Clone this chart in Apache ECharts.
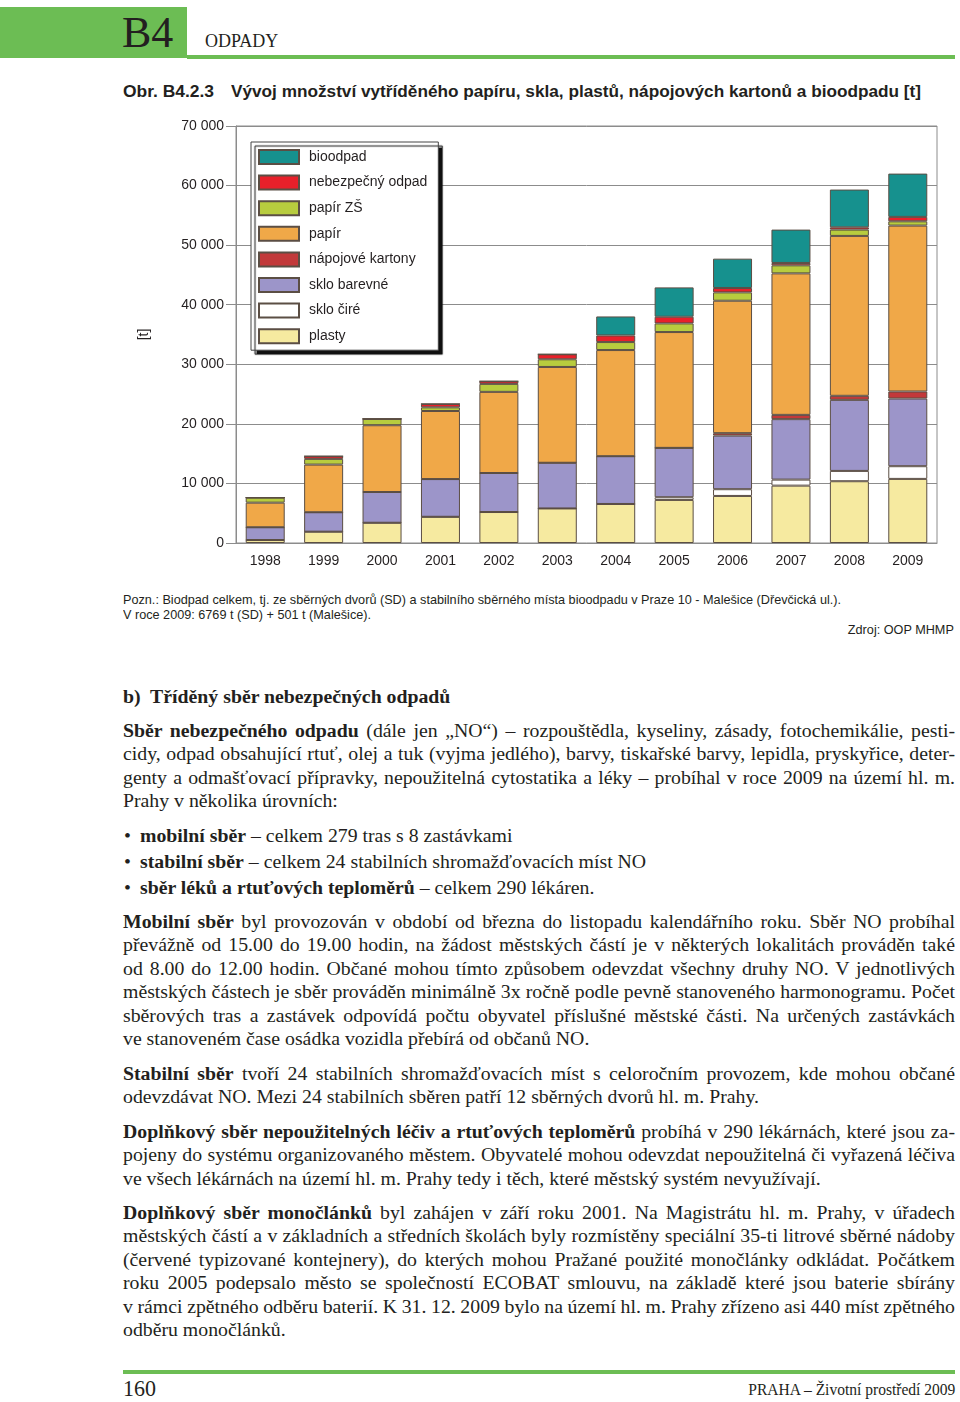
<!DOCTYPE html>
<html lang="cs">
<head>
<meta charset="utf-8">
<script src="https://cdn.jsdelivr.net/npm/echarts@6/dist/echarts.min.js"></script>
<style>
  html, body { margin: 0; padding: 0; background: #fff; }
  body { width: 960px; height: 1402px; position: relative; overflow: hidden; color: #231f20; }
  .abs { position: absolute; white-space: nowrap; }
  .serif { font-family: "Liberation Serif", "Times New Roman", serif; }
  .sans { font-family: "Liberation Sans", Arial, sans-serif; }
  .fit { display: inline-block; transform-origin: 0 50%; }
  .txt { position: absolute; left: 123px; font-family: "Liberation Serif", "Times New Roman", serif; font-size: 19.8px; line-height: 23.4px; }
  .txt div { white-space: nowrap; }
  .txt span[data-j] { display: inline-block; }
  .bul { line-height: 26px; }
  .bul div { padding-left: 17px; position: relative; }
  .bul div::before { content: "•"; position: absolute; left: 1px; }
  #chart { position: absolute; left: 0; top: 60px; width: 960px; height: 530px; }
</style>
</head>
<body>

<!-- hlavicka -->
<div class="abs" style="left:0;top:7px;width:187px;height:51px;background:#6cbd54;"></div>
<div class="abs" style="left:187px;top:55px;width:768px;height:4px;background:#6cbd54;"></div>
<div class="abs serif" style="left:122px;top:11px;font-size:44px;line-height:44px;">B4</div>
<div class="abs serif" style="left:205px;top:32px;font-size:18px;line-height:18px;">ODPADY</div>

<!-- popisek grafu -->
<div class="abs sans" style="left:123px;top:83px;font-size:16px;line-height:18px;font-weight:bold;">
  <span class="fit" data-w="91">Obr. B4.2.3</span>
</div>
<div class="abs sans" style="left:231px;top:83px;font-size:16px;line-height:18px;font-weight:bold;">
  <span class="fit" data-w="690">Vývoj množství vytříděného papíru, skla, plastů, nápojových kartonů a bioodpadu [t]</span>
</div>

<div id="chart"></div>

<!-- poznamky -->
<div class="abs sans" style="left:123px;top:592px;font-size:13px;line-height:15px;">
  <span class="fit" data-w="718">Pozn.: Biodpad celkem, tj. ze sběrných dvorů (SD) a stabilního sběrného místa bioodpadu v Praze 10 - Malešice (Dřevčická ul.).</span>
</div>
<div class="abs sans" style="left:123px;top:607px;font-size:13px;line-height:15px;">
  <span class="fit" data-w="248">V roce 2009: 6769 t (SD) + 501 t (Malešice).</span>
</div>
<div class="abs sans" style="right:6px;top:622px;font-size:13px;line-height:15px;text-align:right;">
  <span class="fit" data-w="106" style="transform-origin:100% 50%;">Zdroj: OOP MHMP</span>
</div>

<!-- text -->
<div class="txt" style="top:684px;line-height:24px;font-weight:bold;">
  <div>b)&nbsp; Tříděný sběr nebezpečných odpadů</div>
</div>

<div class="txt" style="top:719px;">
  <div><span data-j="832"><b>Sběr nebezpečného odpadu</b> (dále jen „NO“) – rozpouštědla, kyseliny, zásady, fotochemikálie, pesti-</span></div>
  <div><span data-j="832">cidy, odpad obsahující rtuť, olej a tuk (vyjma jedlého), barvy, tiskařské barvy, lepidla, pryskyřice, deter-</span></div>
  <div><span data-j="832">genty a odmašťovací přípravky, nepoužitelná cytostatika a léky – probíhal v roce 2009 na území hl. m.</span></div>
  <div>Prahy v několika úrovních:</div>
</div>

<div class="txt bul" style="top:822px;">
  <div><b>mobilní sběr</b> – celkem 279 tras s 8 zastávkami</div>
  <div><b>stabilní sběr</b> – celkem 24 stabilních shromažďovacích míst NO</div>
  <div><b>sběr léků a rtuťových teploměrů</b> – celkem 290 lékáren.</div>
</div>

<div class="txt" style="top:910px;">
  <div><span data-j="832"><b>Mobilní sběr</b> byl provozován v období od března do listopadu kalendářního roku. Sběr NO probíhal</span></div>
  <div><span data-j="832">převážně od 15.00 do 19.00 hodin, na žádost městských částí je v některých lokalitách prováděn také</span></div>
  <div><span data-j="832">od 8.00 do 12.00 hodin. Občané mohou tímto způsobem odevzdat všechny druhy NO. V jednotlivých</span></div>
  <div><span data-j="832">městských částech je sběr prováděn minimálně 3x ročně podle pevně stanoveného harmonogramu. Počet</span></div>
  <div><span data-j="832">sběrových tras a zastávek odpovídá počtu obyvatel příslušné městské části. Na určených zastávkách</span></div>
  <div>ve stanoveném čase osádka vozidla přebírá od občanů NO.</div>
</div>

<div class="txt" style="top:1062px;">
  <div><span data-j="832"><b>Stabilní sběr</b> tvoří 24 stabilních shromažďovacích míst s celoročním provozem, kde mohou občané</span></div>
  <div>odevzdávat NO. Mezi 24 stabilních sběren patří 12 sběrných dvorů hl. m. Prahy.</div>
</div>

<div class="txt" style="top:1120px;">
  <div><span data-j="832"><b>Doplňkový sběr nepoužitelných léčiv a rtuťových teploměrů</b> probíhá v 290 lékárnách, které jsou za-</span></div>
  <div><span data-j="832">pojeny do systému organizovaného městem. Obyvatelé mohou odevzdat nepoužitelná či vyřazená léčiva</span></div>
  <div>ve všech lékárnách na území hl. m. Prahy tedy i těch, které městský systém nevyužívají.</div>
</div>

<div class="txt" style="top:1201px;">
  <div><span data-j="832"><b>Doplňkový sběr monočlánků</b> byl zahájen v září roku 2001. Na Magistrátu hl. m. Prahy, v úřadech</span></div>
  <div><span data-j="832">městských částí a v základních a středních školách byly rozmístěny speciální 35-ti litrové sběrné nádoby</span></div>
  <div><span data-j="832">(červené typizované kontejnery), do kterých mohou Pražané použité monočlánky odkládat. Počátkem</span></div>
  <div><span data-j="832">roku 2005 podepsalo město se společností ECOBAT smlouvu, na základě které jsou baterie sbírány</span></div>
  <div><span data-j="832">v rámci zpětného odběru baterií. K 31. 12. 2009 bylo na území hl. m. Prahy zřízeno asi 440 míst zpětného</span></div>
  <div>odběru monočlánků.</div>
</div>

<!-- paticka -->
<div class="abs" style="left:123px;top:1370px;width:832px;height:4px;background:#6cbd54;"></div>
<div class="abs serif" style="left:123px;top:1377px;font-size:23px;line-height:24px;">
  <span class="fit" data-w="33">160</span>
</div>
<div class="abs serif" style="right:5px;top:1381px;font-size:16px;line-height:18px;">
  <span class="fit" data-w="207" style="transform-origin:100% 50%;">PRAHA – Životní prostředí 2009</span>
</div>

<script>
// roky a hodnoty [t]
const years = ['1998', '1999', '2000', '2001', '2002', '2003', '2004', '2005', '2006', '2007', '2008', '2009']
const plasty = [500, 1900, 3400, 4400, 5200, 5800, 6550, 7230, 7900, 9630, 10370, 10760]
const skloCire = [0, 0, 0, 0, 0, 0, 0, 450, 1130, 1010, 1730, 2130]
const skloBarevne = [2140, 3260, 5160, 6330, 6550, 7670, 8020, 8290, 9000, 10150, 11930, 11360]
const napojoveKartony = [0, 0, 0, 0, 0, 0, 0, 0, 410, 720, 680, 1180]
const papir = [4130, 8000, 11210, 11430, 13620, 16080, 17820, 19440, 22230, 23750, 26840, 27850]
const papirZS = [850, 960, 1060, 610, 1340, 1290, 1340, 1450, 1400, 1350, 1060, 720]
const nebezpecnyOdpad = [0, 450, 0, 570, 440, 840, 1110, 1120, 740, 400, 380, 740]
const bioodpad = [0, 0, 0, 0, 0, 0, 3190, 4930, 4920, 5600, 6340, 7270]

const yTicks = ['0', '10 000', '20 000', '30 000', '40 000', '50 000', '60 000', '70 000']

// poradi od spodu sloupce
const seriesDefs = [
  { name: 'plasty', data: plasty, color: '#f6eaa0' },
  { name: 'sklo čiré', data: skloCire, color: '#ffffff' },
  { name: 'sklo barevné', data: skloBarevne, color: '#9c95c9' },
  { name: 'nápojové kartony', data: napojoveKartony, color: '#c2393a' },
  { name: 'papír', data: papir, color: '#f0a848' },
  { name: 'papír ZŠ', data: papirZS, color: '#b8cc3e' },
  { name: 'nebezpečný odpad', data: nebezpecnyOdpad, color: '#e8202a' },
  { name: 'bioodpad', data: bioodpad, color: '#16918e' }
]

const chart = echarts.init(document.getElementById('chart'))
chart.setOption({
  animation: false,
  textStyle: { fontFamily: '"Liberation Sans", Arial, sans-serif', color: '#231f20' },
  grid: {
    left: 236, right: 23, top: 66, height: 417,
    show: true, borderColor: '#8c8c8c', borderWidth: 1
  },
  legend: {
    orient: 'vertical',
    left: 251,
    top: 82,
    icon: 'rect',
    itemWidth: 40,
    itemHeight: 14,
    itemGap: 9.6,
    padding: [7, 11, 6, 7],
    backgroundColor: '#fff',
    borderColor: '#444',
    borderWidth: 1,
    shadowColor: '#111',
    shadowBlur: 1,
    shadowOffsetX: 4,
    shadowOffsetY: 4,
    selectedMode: false,
    textStyle: { fontSize: 14, color: '#231f20', padding: [0, 0, 0, 5] },
    data: seriesDefs.map(s => s.name).reverse()
  },
  xAxis: {
    type: 'category',
    data: years,
    axisLine: { lineStyle: { color: '#8c8c8c' } },
    axisTick: { length: 6, lineStyle: { color: '#8c8c8c' } },
    axisLabel: { fontSize: 14, color: '#231f20', margin: 11 }
  },
  yAxis: {
    type: 'value',
    min: 0,
    max: 70000,
    interval: 10000,
    name: '[t]',
    nameLocation: 'middle',
    nameGap: 85,
    nameRotate: 90,
    nameTextStyle: { fontSize: 14, color: '#231f20' },
    axisLine: { show: true, lineStyle: { color: '#8c8c8c' } },
    axisTick: { show: true, length: 10, lineStyle: { color: '#8c8c8c' } },
    splitLine: { lineStyle: { color: '#8c8c8c' } },
    axisLabel: {
      fontSize: 14, color: '#231f20', margin: 12,
      formatter: (v) => yTicks[Math.round(v / 10000)]
    }
  },
  series: seriesDefs.map(s => ({
    name: s.name,
    type: 'bar',
    stack: 'celkem',
    barWidth: 39,
    data: s.data,
    itemStyle: { color: s.color, borderColor: '#5b4e44', borderWidth: 1 },
    emphasis: { disabled: true }
  }))
})

// zarovnani radku do bloku a zuzeni pisma
function fitTexts() {
  document.querySelectorAll('[data-j]').forEach(el => {
    el.style.wordSpacing = '0px'
    const w = el.getBoundingClientRect().width
    const spaces = (el.textContent.match(/ /g) || []).length
    if (spaces) el.style.wordSpacing = ((+el.dataset.j - w) / spaces) + 'px'
  })
  document.querySelectorAll('[data-w]').forEach(el => {
    el.style.transform = 'none'
    const w = el.getBoundingClientRect().width
    el.style.transform = 'scaleX(' + (+el.dataset.w / w) + ')'
  })
}
fitTexts()
if (document.fonts) document.fonts.ready.then(fitTexts)
</script>
</body>
</html>
